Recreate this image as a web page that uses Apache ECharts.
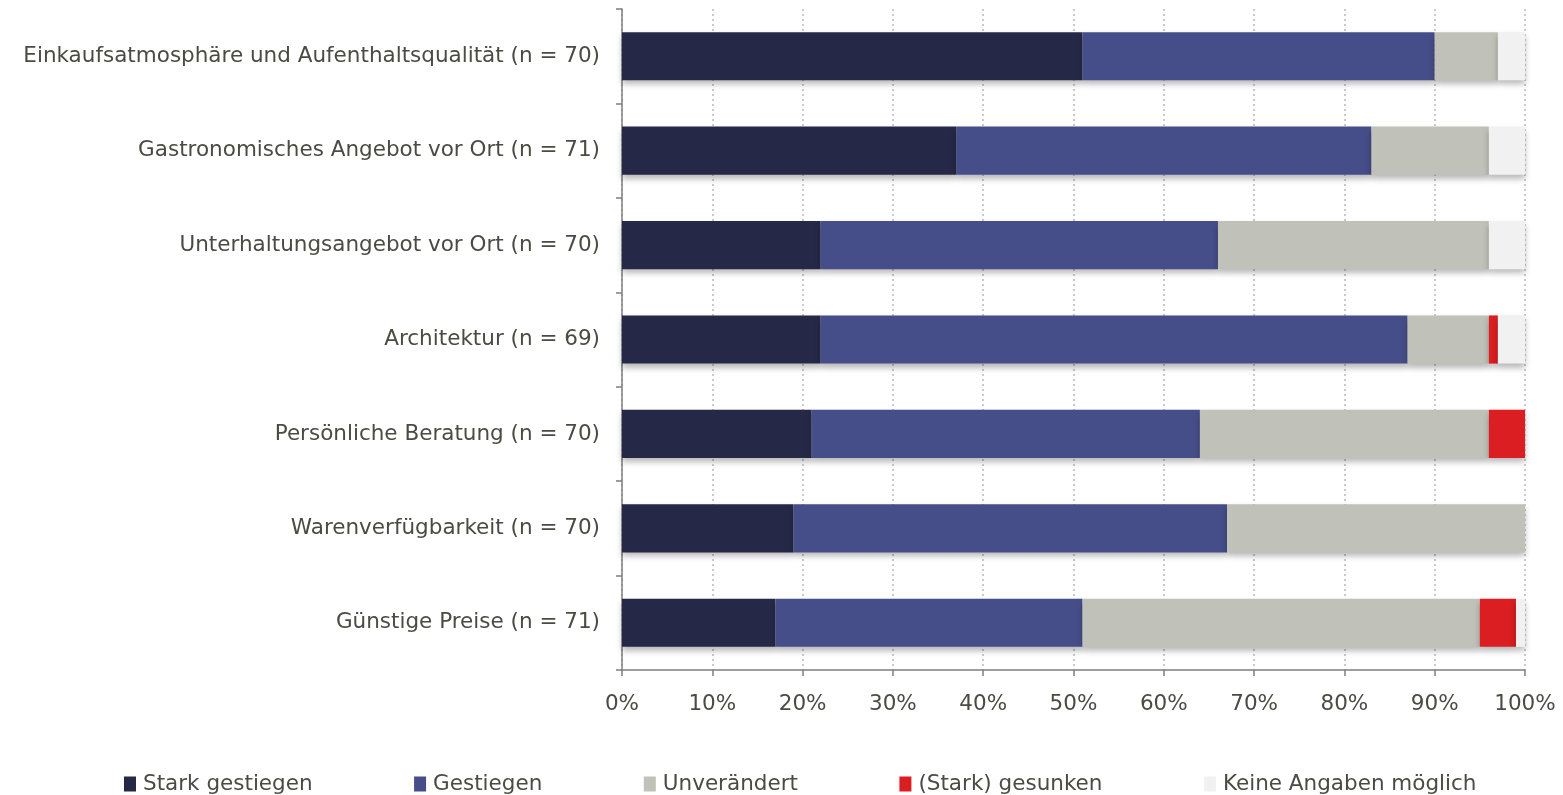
<!DOCTYPE html>
<html>
<head>
<meta charset="utf-8">
<script src="https://cdn.jsdelivr.net/npm/echarts@6/dist/echarts.min.js"></script>
<style>
  html, body { margin: 0; padding: 0; background: #ffffff; }
  #chart { width: 1563px; height: 795px; }
</style>
</head>
<body>
<div id="chart"></div>
<script>
// Categories, listed bottom to top as the category axis draws them
const categories = [
  'Günstige Preise (n = 71)',
  'Warenverfügbarkeit (n = 70)',
  'Persönliche Beratung (n = 70)',
  'Architektur (n = 69)',
  'Unterhaltungsangebot vor Ort (n = 70)',
  'Gastronomisches Angebot vor Ort (n = 71)',
  'Einkaufsatmosphäre und Aufenthaltsqualität (n = 70)'
];

// Shares in percent, same order as categories
const starkGestiegen = [17, 19, 21, 22, 22, 37, 51];
const gestiegen      = [34, 48, 43, 65, 44, 46, 39];
const unveraendert   = [44, 33, 32,  9, 30, 13,  7];
const gesunken       = [ 4,  0,  4,  1,  0,  0,  0];
const keineAngaben   = [ 1,  0,  0,  3,  4,  4,  3];

const seriesNames = ['Stark gestiegen', 'Gestiegen', 'Unverändert', '(Stark) gesunken', 'Keine Angaben möglich'];
const seriesValues = [starkGestiegen, gestiegen, unveraendert, gesunken, keineAngaben];
const seriesColors = ['#252947', '#464e89', '#c0c1b8', '#da1e21', '#f1f1f1'];

const xTicks = [0, 10, 20, 30, 40, 50, 60, 70, 80, 90, 100];

const textColor = '#4b4b43';
const fontFamily = '"DejaVu Sans", sans-serif';
const fontSize = 21.5;

const chart = echarts.init(document.getElementById('chart'), null, { renderer: 'canvas' });

chart.setOption({
  animation: false,
  textStyle: { fontFamily: fontFamily, color: textColor },
  grid: { left: 622, right: 38, top: 9, bottom: 125, containLabel: false },
  legend: {
    data: seriesNames,
    top: 773,
    left: 124,
    padding: 0,
    itemWidth: 12,
    itemHeight: 15,
    itemGap: 101.5,
    icon: 'rect',
    textStyle: { fontSize: fontSize, color: textColor, fontFamily: fontFamily, padding: [0, 0, 0, 2] }
  },
  xAxis: {
    type: 'value',
    min: xTicks[0],
    max: xTicks[xTicks.length - 1],
    interval: 10,
    axisLine: { show: true, lineStyle: { color: '#7f7f7f', width: 1.5 } },
    axisTick: { show: true, length: 6, lineStyle: { color: '#7f7f7f', width: 1.5 } },
    axisLabel: { formatter: '{value}%', fontSize: fontSize, color: textColor, margin: 23 },
    splitLine: { show: true, lineStyle: { color: '#b9b9b9', type: [2, 3], width: 1.5 } }
  },
  yAxis: {
    type: 'category',
    data: categories,
    axisLine: { show: true, lineStyle: { color: '#7f7f7f', width: 1.5 } },
    axisTick: { show: true, length: 6, lineStyle: { color: '#7f7f7f', width: 1.5 } },
    axisLabel: { fontSize: fontSize, color: textColor, margin: 22 },
    splitLine: { show: false }
  },
  series: seriesNames.map((name, i) => ({
    name: name,
    type: 'bar',
    stack: 'total',
    barWidth: '51%',
    data: seriesValues[i],
    itemStyle: {
      color: seriesColors[i],
      shadowColor: 'rgba(0, 0, 0, 0.28)',
      shadowBlur: 6,
      shadowOffsetY: 4
    }
  }))
});
</script>
</body>
</html>
